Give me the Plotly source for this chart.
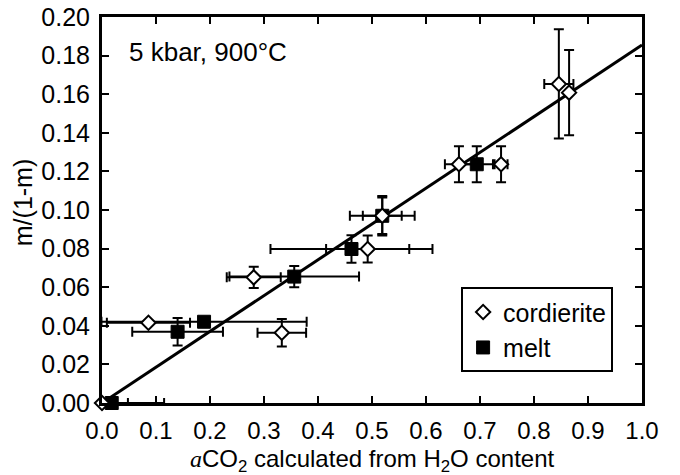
import plotly.graph_objects as go

# Cordierite data
cord_x = [0.0, 0.086, 0.281, 0.333, 0.492, 0.519, 0.661, 0.739, 0.846, 0.865]
cord_y = [0.0, 0.0416, 0.0651, 0.0364, 0.0798, 0.0970, 0.1237, 0.1237, 0.1653, 0.1608]
cord_xerr = [0.115, 0.077, 0.05, 0.045, 0.077, 0.06, 0.026, 0.012, 0.027, 0.0]
cord_yerr = [0.0, 0.0, 0.0055, 0.0071, 0.007, 0.0102, 0.0093, 0.0093, 0.0283, 0.0221]

# Melt data
melt_x = [0.018, 0.140, 0.189, 0.356, 0.462, 0.519, 0.694]
melt_y = [0.0, 0.0369, 0.0421, 0.0655, 0.0798, 0.0970, 0.1237]
melt_xerr = [0.03, 0.084, 0.19, 0.12, 0.15, 0.036, 0.03]
melt_yerr = [0.0, 0.0071, 0.002, 0.0055, 0.0071, 0.0095, 0.0093]

# Fit line
fit_x = [0.0, 1.0]
fit_y = [0.0, 0.1855]

x_ticks = [0.0, 0.1, 0.2, 0.3, 0.4, 0.5, 0.6, 0.7, 0.8, 0.9, 1.0]
y_ticks = [0.00, 0.02, 0.04, 0.06, 0.08, 0.10, 0.12, 0.14, 0.16, 0.18, 0.20]

x_title = ("<span style='font-family:Liberation Serif'><i>a</i></span>"
           "CO<sub>2</sub> calculated from H<sub>2</sub>O content")
y_title = "m/(1-m)"

FONT = "Liberation Sans, Arial, sans-serif"

fig = go.Figure()

fig.add_trace(go.Scatter(
    x=fit_x, y=fit_y, mode="lines",
    line=dict(color="black", width=3), showlegend=False, hoverinfo="skip",
))

fig.add_trace(go.Scatter(
    x=melt_x, y=melt_y, mode="markers", name="melt",
    marker=dict(symbol="square", size=13, color="black", line=dict(color="black", width=1)),
    error_x=dict(type="data", array=melt_xerr, color="black", thickness=2, width=5),
    error_y=dict(type="data", array=melt_yerr, color="black", thickness=2, width=5),
    cliponaxis=False,
))

fig.add_trace(go.Scatter(
    x=cord_x, y=cord_y, mode="markers", name="cordierite",
    marker=dict(symbol="diamond", size=11, color="white", line=dict(color="black", width=2)),
    error_x=dict(type="data", array=cord_xerr, color="black", thickness=2, width=5),
    error_y=dict(type="data", array=cord_yerr, color="black", thickness=2, width=5),
    cliponaxis=False,
))

fig.update_layout(
    width=680, height=475,
    margin=dict(l=102, r=38, t=17, b=72, autoexpand=False),
    paper_bgcolor="white", plot_bgcolor="white",
    font=dict(family=FONT, size=25, color="black"),
    showlegend=True,
    legend=dict(
        x=0.665, y=0.30, xanchor="left", yanchor="top",
        bordercolor="black", borderwidth=2, bgcolor="white",
        font=dict(size=25), traceorder="reversed",
        itemwidth=30, tracegroupgap=0,
    ),
    annotations=[
        dict(x=0.046, y=0.909, xref="paper", yref="paper",
             text="5 kbar, 900°C", showarrow=False,
             xanchor="left", yanchor="middle", font=dict(size=26)),
        dict(x=0.5, y=-0.150, xref="paper", yref="paper",
             text=x_title, showarrow=False,
             xanchor="center", yanchor="middle", font=dict(size=24)),
        dict(x=-0.146, y=0.518, xref="paper", yref="paper",
             text=y_title, showarrow=False, textangle=-90,
             xanchor="center", yanchor="middle", font=dict(size=25)),
    ],
)

fig.update_xaxes(
    range=[0, 1], tickvals=x_ticks, tickformat=".1f",
    ticks="inside", ticklen=7, tickwidth=2, tickcolor="black",
    showline=True, linewidth=3, linecolor="black", mirror="ticks",
    showgrid=False, zeroline=False, ticklabelstandoff=4,
    tickfont=dict(size=24), automargin=False,
)
fig.update_yaxes(
    range=[0, 0.2], tickvals=y_ticks, tickformat=".2f",
    ticks="inside", ticklen=7, tickwidth=2, tickcolor="black",
    showline=True, linewidth=3, linecolor="black", mirror="ticks",
    showgrid=False, zeroline=False, ticklabelstandoff=4,
    tickfont=dict(size=25), automargin=False,
)

fig.write_html("out.html")
